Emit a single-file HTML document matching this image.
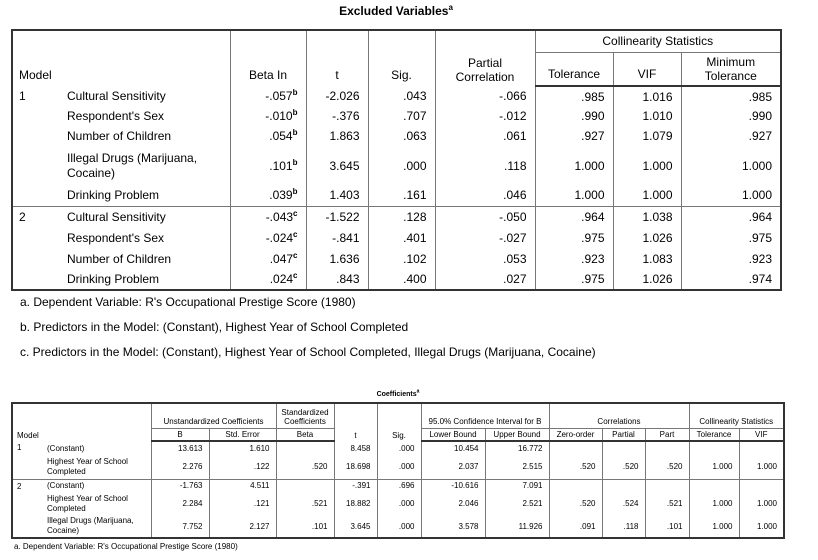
<!DOCTYPE html>
<html><head><meta charset="utf-8"><style>
body{margin:0;width:818px;height:560px;background:#fff;position:relative;overflow:hidden;font-family:"Liberation Sans",Arial,sans-serif;color:#000}
.abs{position:absolute}
table{border-collapse:collapse;table-layout:fixed;position:absolute}
td{padding:0;white-space:nowrap;overflow:hidden}
#t1{left:11px;top:29px;border:2px solid #333;font-size:12px}
#t1 td{padding:0 6px}
#t1 .v{border-left:1px solid #777}
#t1 .r{text-align:right;padding-right:8px}
#t1 .c{text-align:center}
#t1 .hb td{border-bottom:2px solid #333}
#t1 .ms td{border-top:1px solid #777}
sup{font-size:8px;line-height:0;font-weight:bold}
#t2{left:11px;top:402px;border:2px solid #333;font-size:8px}
#t2 td{padding:0 4px}
#t2 .v{border-left:1px solid #777}
#t2 .r{text-align:right;padding-right:6px}
#t2 .c{text-align:center}
#t2 .hb td{border-bottom:2px solid #333}
#t2 .ms td{border-top:1px solid #777}
.fn{font-size:12px;left:20px}
</style></head><body>
<div class="abs" style="left:0;width:792px;top:4px;text-align:center;font-weight:bold;font-size:12px">Excluded Variables<sup>a</sup></div>
<table id="t1">
<colgroup><col style="width:49px"><col style="width:169px"><col style="width:76px"><col style="width:62px"><col style="width:67px"><col style="width:100px"><col style="width:78px"><col style="width:68px"><col style="width:100px"></colgroup>
<tr style="height:22px"><td colspan="2" rowspan="2" style="vertical-align:bottom;padding-bottom:4px">Model</td><td class="v c" rowspan="2" style="vertical-align:bottom;padding-bottom:4px">Beta In</td><td class="v c" rowspan="2" style="vertical-align:bottom;padding-bottom:4px">t</td><td class="v c" rowspan="2" style="vertical-align:bottom;padding-bottom:4px">Sig.</td><td class="v c" rowspan="2" style="vertical-align:bottom;padding-bottom:2px;white-space:normal;line-height:14px">Partial<br>Correlation</td><td class="v c" colspan="3" style="border-bottom:1px solid #777">Collinearity Statistics</td></tr>
<tr class="hb" style="height:34px"><td class="v c" style="vertical-align:bottom;padding-bottom:4px">Tolerance</td><td class="v c" style="vertical-align:bottom;padding-bottom:4px">VIF</td><td class="v c" style="vertical-align:bottom;padding-bottom:2px;line-height:14px">Minimum<br>Tolerance</td></tr>
<tr style="height:20px"><td rowspan="5" style="vertical-align:top;padding-top:3px">1</td><td>Cultural Sensitivity</td><td class="v r">-.057<sup>b</sup></td><td class="v r">-2.026</td><td class="v r">.043</td><td class="v r">-.066</td><td class="v r">.985</td><td class="v r">1.016</td><td class="v r">.985</td></tr>
<tr style="height:20px"><td>Respondent's Sex</td><td class="v r">-.010<sup>b</sup></td><td class="v r">-.376</td><td class="v r">.707</td><td class="v r">-.012</td><td class="v r">.990</td><td class="v r">1.010</td><td class="v r">.990</td></tr>
<tr style="height:20px"><td>Number of Children</td><td class="v r">.054<sup>b</sup></td><td class="v r">1.863</td><td class="v r">.063</td><td class="v r">.061</td><td class="v r">.927</td><td class="v r">1.079</td><td class="v r">.927</td></tr>
<tr style="height:39px"><td style="line-height:15px">Illegal Drugs (Marijuana,<br>Cocaine)</td><td class="v r">.101<sup>b</sup></td><td class="v r">3.645</td><td class="v r">.000</td><td class="v r">.118</td><td class="v r">1.000</td><td class="v r">1.000</td><td class="v r">1.000</td></tr>
<tr style="height:21px"><td>Drinking Problem</td><td class="v r">.039<sup>b</sup></td><td class="v r">1.403</td><td class="v r">.161</td><td class="v r">.046</td><td class="v r">1.000</td><td class="v r">1.000</td><td class="v r">1.000</td></tr>
<tr class="ms" style="height:21px"><td rowspan="4" style="vertical-align:top;padding-top:3px">2</td><td>Cultural Sensitivity</td><td class="v r">-.043<sup>c</sup></td><td class="v r">-1.522</td><td class="v r">.128</td><td class="v r">-.050</td><td class="v r">.964</td><td class="v r">1.038</td><td class="v r">.964</td></tr>
<tr style="height:21px"><td>Respondent's Sex</td><td class="v r">-.024<sup>c</sup></td><td class="v r">-.841</td><td class="v r">.401</td><td class="v r">-.027</td><td class="v r">.975</td><td class="v r">1.026</td><td class="v r">.975</td></tr>
<tr style="height:21px"><td>Number of Children</td><td class="v r">.047<sup>c</sup></td><td class="v r">1.636</td><td class="v r">.102</td><td class="v r">.053</td><td class="v r">.923</td><td class="v r">1.083</td><td class="v r">.923</td></tr>
<tr style="height:21px"><td>Drinking Problem</td><td class="v r">.024<sup>c</sup></td><td class="v r">.843</td><td class="v r">.400</td><td class="v r">.027</td><td class="v r">.975</td><td class="v r">1.026</td><td class="v r">.974</td></tr>
</table>
<div class="abs fn" style="top:295px">a. Dependent Variable: R's Occupational Prestige Score (1980)</div>
<div class="abs fn" style="top:320px">b. Predictors in the Model: (Constant), Highest Year of School Completed</div>
<div class="abs fn" style="top:345px">c. Predictors in the Model: (Constant), Highest Year of School Completed, Illegal Drugs (Marijuana, Cocaine)</div>

<div class="abs" style="left:0;width:796px;top:391px;text-align:center;font-weight:bold;font-size:7px">Coefficients<sup style="font-size:5px">a</sup></div>
<table id="t2">
<colgroup><col style="width:31px"><col style="width:108px"><col style="width:58px"><col style="width:67px"><col style="width:58px"><col style="width:43px"><col style="width:44px"><col style="width:64px"><col style="width:64px"><col style="width:53px"><col style="width:43px"><col style="width:44px"><col style="width:50px"><col style="width:45px"></colgroup>
<tr style="height:25px"><td colspan="2" rowspan="2" style="vertical-align:bottom;padding-bottom:1px">Model</td><td class="v c" colspan="2" style="border-bottom:1px solid #777;vertical-align:bottom;padding-bottom:2px">Unstandardized Coefficients</td><td class="v c" style="border-bottom:1px solid #777;line-height:9px;vertical-align:bottom;padding-bottom:2px">Standardized<br>Coefficients</td><td class="v c" rowspan="2" style="vertical-align:bottom;padding-bottom:1px">t</td><td class="v c" rowspan="2" style="vertical-align:bottom;padding-bottom:1px">Sig.</td><td class="v c" colspan="2" style="border-bottom:1px solid #777;vertical-align:bottom;padding-bottom:2px">95.0% Confidence Interval for B</td><td class="v c" colspan="3" style="border-bottom:1px solid #777;vertical-align:bottom;padding-bottom:2px">Correlations</td><td class="v c" colspan="2" style="border-bottom:1px solid #777;vertical-align:bottom;padding-bottom:2px">Collinearity Statistics</td></tr>
<tr class="hb" style="height:13px"><td class="v c">B</td><td class="v c">Std. Error</td><td class="v c">Beta</td><td class="v c">Lower Bound</td><td class="v c">Upper Bound</td><td class="v c">Zero-order</td><td class="v c">Partial</td><td class="v c">Part</td><td class="v c">Tolerance</td><td class="v c">VIF</td></tr>
<tr style="height:14px"><td rowspan="2" style="vertical-align:top;padding-top:2px">1</td><td>(Constant)</td><td class="v r">13.613</td><td class="v r">1.610</td><td class="v r"></td><td class="v r">8.458</td><td class="v r">.000</td><td class="v r">10.454</td><td class="v r">16.772</td><td class="v r"></td><td class="v r"></td><td class="v r"></td><td class="v r"></td><td class="v r"></td></tr>
<tr style="height:24px"><td style="line-height:10px">Highest Year of School<br>Completed</td><td class="v r">2.276</td><td class="v r">.122</td><td class="v r">.520</td><td class="v r">18.698</td><td class="v r">.000</td><td class="v r">2.037</td><td class="v r">2.515</td><td class="v r">.520</td><td class="v r">.520</td><td class="v r">.520</td><td class="v r">1.000</td><td class="v r">1.000</td></tr>
<tr class="ms" style="height:13px"><td rowspan="3" style="vertical-align:top;padding-top:2px">2</td><td>(Constant)</td><td class="v r">-1.763</td><td class="v r">4.511</td><td class="v r"></td><td class="v r">-.391</td><td class="v r">.696</td><td class="v r">-10.616</td><td class="v r">7.091</td><td class="v r"></td><td class="v r"></td><td class="v r"></td><td class="v r"></td><td class="v r"></td></tr>
<tr style="height:23px"><td style="line-height:10px">Highest Year of School<br>Completed</td><td class="v r">2.284</td><td class="v r">.121</td><td class="v r">.521</td><td class="v r">18.882</td><td class="v r">.000</td><td class="v r">2.046</td><td class="v r">2.521</td><td class="v r">.520</td><td class="v r">.524</td><td class="v r">.521</td><td class="v r">1.000</td><td class="v r">1.000</td></tr>
<tr style="height:23px"><td style="line-height:10px">Illegal Drugs (Marijuana,<br>Cocaine)</td><td class="v r">7.752</td><td class="v r">2.127</td><td class="v r">.101</td><td class="v r">3.645</td><td class="v r">.000</td><td class="v r">3.578</td><td class="v r">11.926</td><td class="v r">.091</td><td class="v r">.118</td><td class="v r">.101</td><td class="v r">1.000</td><td class="v r">1.000</td></tr>
</table>
<div class="abs" style="left:14px;top:542px;font-size:8px">a. Dependent Variable: R's Occupational Prestige Score (1980)</div>
</body></html>
